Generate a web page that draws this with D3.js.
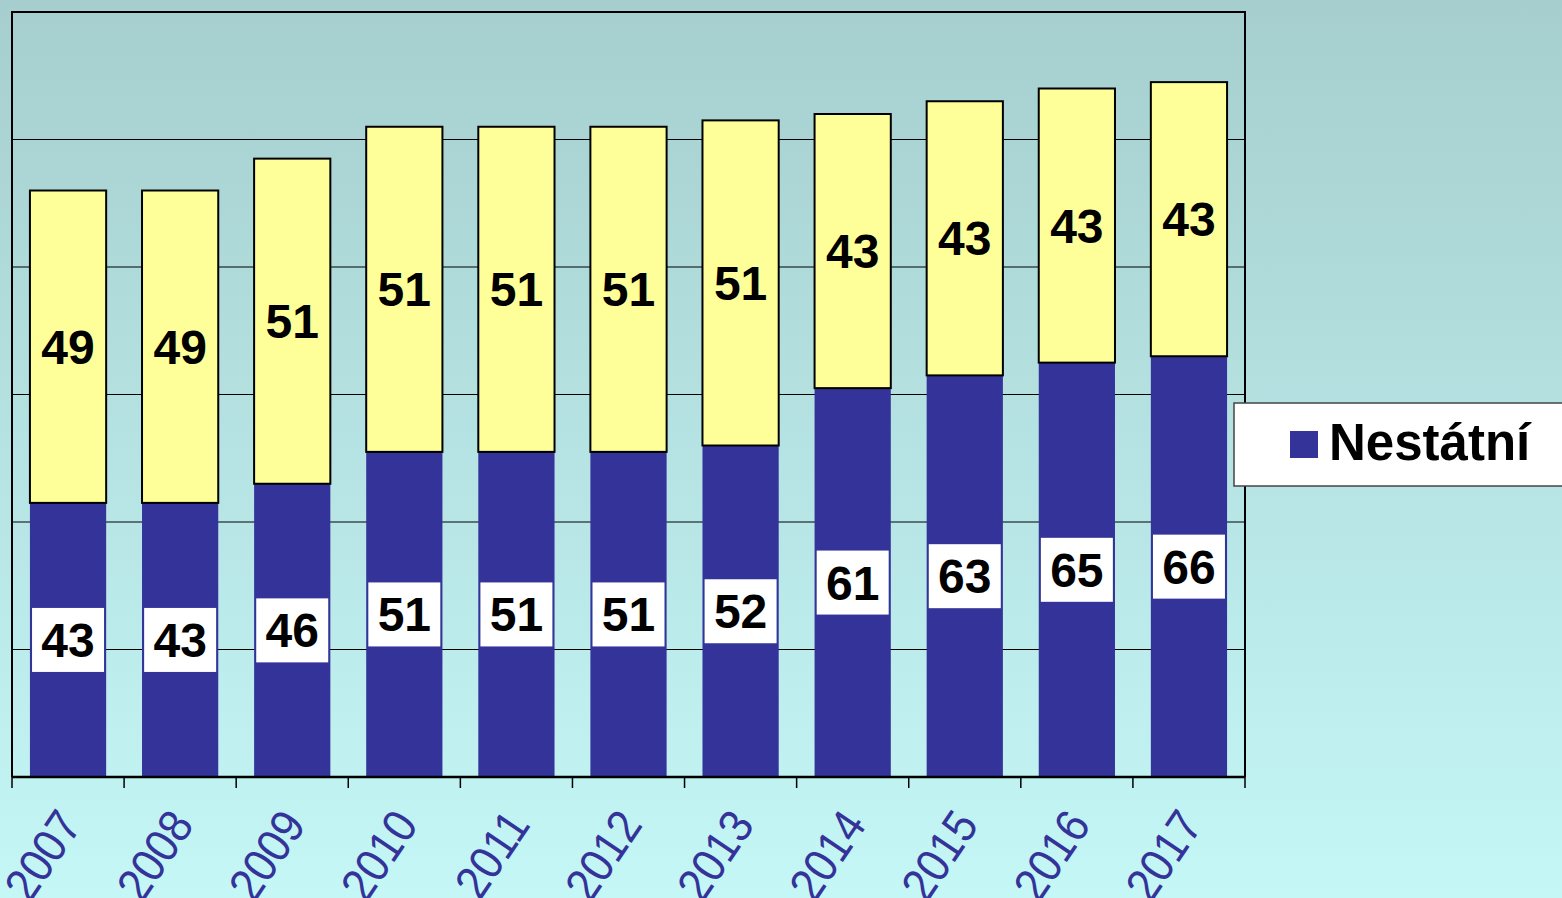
<!DOCTYPE html>
<html>
<head>
<meta charset="utf-8">
<title>Nestátní</title>
<script src="https://d3js.org/d3.v7.min.js"></script>
<style>
  html, body { margin: 0; padding: 0; overflow: hidden; }
  text { font-family: "Liberation Sans", Arial, sans-serif; }
</style>
</head>
<body>
<svg id="chart" width="1562" height="898"></svg>
<script>
// data
const years = ["2007","2008","2009","2010","2011","2012","2013","2014","2015","2016","2017"];
const nestatni = [43, 43, 46, 51, 51, 51, 52, 61, 63, 65, 66];
const statni = [49, 49, 51, 51, 51, 51, 51, 43, 43, 43, 43];
const yTicks = [0, 20, 40, 60, 80, 100, 120];

const svg = d3.select("#chart");
const W = 1562, H = 898;
const m = {left: 12, top: 12, right: 1245, bottom: 777};

// background gradient
const defs = svg.append("defs");
const grad = defs.append("linearGradient").attr("id", "bg").attr("x1", 0).attr("y1", 0).attr("x2", 0).attr("y2", 1);
grad.append("stop").attr("offset", "0%").attr("stop-color", "#a6cece");
grad.append("stop").attr("offset", "100%").attr("stop-color", "#c5f7f7");
svg.append("rect").attr("width", W).attr("height", H).attr("fill", "url(#bg)");

const x = d3.scaleBand().domain(years).range([m.left, m.right]).paddingInner(0.32).paddingOuter(0.16);
const y = d3.scaleLinear().domain([0, 120]).range([m.bottom, m.top]);

// gridlines
svg.append("g").selectAll("line").data(yTicks.slice(1, -1)).join("line")
  .attr("x1", m.left).attr("x2", m.right)
  .attr("y1", d => y(d)).attr("y2", d => y(d))
  .attr("stroke", "#000").attr("stroke-width", 1);

// plot border (top, left, right)
svg.append("path")
  .attr("d", `M${m.left},${m.bottom}V${m.top}H${m.right}V${m.bottom}`)
  .attr("fill", "none").attr("stroke", "#000").attr("stroke-width", 2);

const rows = years.map((yr, i) => ({yr, a: nestatni[i], b: statni[i]}));

// bottom series
svg.append("g").selectAll("rect").data(rows).join("rect")
  .attr("x", d => x(d.yr)).attr("width", x.bandwidth())
  .attr("y", d => y(d.a)).attr("height", d => y(0) - y(d.a))
  .attr("fill", "#333399");

// top series
svg.append("g").selectAll("rect").data(rows).join("rect")
  .attr("x", d => x(d.yr)).attr("width", x.bandwidth())
  .attr("y", d => y(d.a + d.b)).attr("height", d => y(d.a) - y(d.a + d.b))
  .attr("fill", "#ffff99").attr("stroke", "#000").attr("stroke-width", 2);

// labels bottom series (white boxes)
const lb = svg.append("g").selectAll("g").data(rows).join("g")
  .attr("transform", d => `translate(${x(d.yr) + x.bandwidth() / 2},${(y(0) + y(d.a)) / 2})`);
lb.append("rect").attr("x", -36).attr("y", -32).attr("width", 72).attr("height", 64).attr("fill", "#fff");
lb.append("text").attr("text-anchor", "middle").attr("y", 17)
  .attr("font-size", 48).attr("font-weight", "bold").attr("fill", "#000")
  .text(d => d.a);

// labels top series
svg.append("g").selectAll("text").data(rows).join("text")
  .attr("x", d => x(d.yr) + x.bandwidth() / 2)
  .attr("y", d => (y(d.a) + y(d.a + d.b)) / 2 + 17)
  .attr("text-anchor", "middle").attr("font-size", 48).attr("font-weight", "bold").attr("fill", "#000")
  .text(d => d.b);

// x axis
const bounds = d3.range(years.length + 1).map(i => m.left + i * (m.right - m.left) / years.length);
svg.append("line").attr("x1", m.left).attr("x2", m.right).attr("y1", m.bottom).attr("y2", m.bottom)
  .attr("stroke", "#000").attr("stroke-width", 2.5);
svg.append("g").selectAll("line").data(bounds).join("line")
  .attr("x1", d => d).attr("x2", d => d).attr("y1", m.bottom).attr("y2", m.bottom + 11)
  .attr("stroke", "#000").attr("stroke-width", 1.5);
// year labels: steep and a little tall, like the original (bottoms run off the page there too)
svg.append("g").selectAll("text").data(years).join("text")
  .attr("transform", d => `translate(${x(d) + x.bandwidth() / 2 + 15},${m.bottom + 48}) rotate(-56) scale(1,1.1)`)
  .attr("text-anchor", "end").attr("font-size", 43).attr("fill", "#333399")
  .text(d => d);

// legend
const lg = svg.append("g").attr("transform", "translate(1234,403)");
lg.append("rect").attr("width", 340).attr("height", 83).attr("fill", "#fff").attr("stroke", "#444").attr("stroke-width", 1.5);
lg.append("rect").attr("x", 56).attr("y", 28).attr("width", 28).attr("height", 27).attr("fill", "#333399");
lg.append("text").attr("x", 95).attr("y", 57).attr("font-size", 51).attr("font-weight", "bold").attr("fill", "#000").text("Nestátní");
</script>
</body>
</html>
